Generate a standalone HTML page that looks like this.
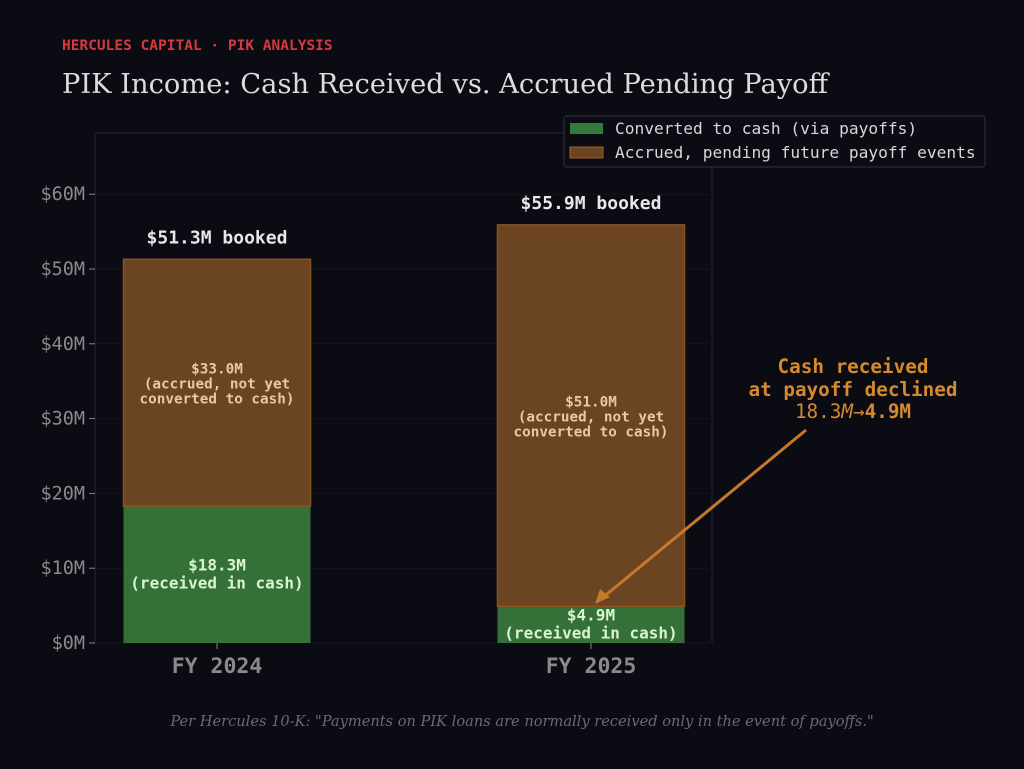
<!DOCTYPE html>
<html><head><meta charset="utf-8"><style>
body{margin:0;background:#0b0b14;}
svg{display:block;font-family:"DejaVu Sans Mono","Liberation Mono",monospace;}
</style></head><body>
<svg id="c" width="1024" height="769" viewBox="0 0 1024 769" xmlns="http://www.w3.org/2000/svg">
<rect width="1024" height="769" fill="#0b0b14"/>
<text x="62" y="50" fill="#d63a3a" font-size="14.5" font-weight="bold">HERCULES CAPITAL · PIK ANALYSIS</text>
<text x="62" y="93" fill="#dcdcdc" font-size="27.2" textLength="766" lengthAdjust="spacingAndGlyphs" font-family="'DejaVu Serif','Liberation Serif',serif">PIK Income: Cash Received vs. Accrued Pending Payoff</text>
<rect x="95" y="133" width="617" height="510" fill="none" stroke="#262633"/>
<g id="grid"></g><g id="bars"></g><g id="axes"></g>
<g>
<rect x="564" y="116" width="421" height="51" rx="3" fill="#0b0b14" stroke="#33333f"/>
<rect x="570" y="123" width="33" height="11" fill="#357a3c"/>
<text x="615" y="134" fill="#d8d8d8" font-size="16.2">Converted to cash (via payoffs)</text>
<rect x="570" y="147" width="33" height="11" fill="#6b4522" stroke="#9a5f24"/>
<text x="615" y="158" fill="#d8d8d8" font-size="16.2">Accrued, pending future payoff events</text>
</g>
<g fill="#d68a2e" font-size="19.3" font-weight="bold" text-anchor="middle">
<text x="853" y="373">Cash received</text>
<text x="853" y="396">at payoff declined</text>
<text x="853" y="418"><tspan font-weight="normal">18.3</tspan><tspan font-weight="normal" font-style="italic">M</tspan><tspan font-weight="normal">→</tspan>4.9M</text>
<line x1="806" y1="430" x2="601" y2="599" stroke="#c8782a" stroke-width="3"/>
<polygon points="595,604 600,589 610,597" fill="#c8782a"/>
</g>
<text x="522" y="726" fill="#6a6a72" font-size="14.6" font-style="italic" text-anchor="middle" font-family="'DejaVu Serif','Liberation Serif',serif">Per Hercules 10-K: "Payments on PIK loans are normally received only in the event of payoffs."</text>
</svg>
<script>
const categories=["FY 2024","FY 2025"];
const cashVals=[18.3,4.9];
const accruedVals=[33.0,51.0];
const yTicks=[0,10,20,30,40,50,60];
const NS="http://www.w3.org/2000/svg";
const y=v=>643-v*7.48;
const xc=i=>217+i*374;
const bw=187;
function mk(tag,attrs,parent,txt){const e=document.createElementNS(NS,tag);for(const k in attrs)e.setAttribute(k,attrs[k]);if(txt!==undefined)e.textContent=txt;document.getElementById(parent).appendChild(e);return e;}
yTicks.forEach(t=>{
 const g=mk('line',{x1:95,x2:712,y1:y(t),y2:y(t),stroke:'#14141e','stroke-width':1},'grid');
 
 
 const tk=mk('line',{x1:89,x2:95,y1:y(t),y2:y(t),stroke:'#888'},'axes');
 
 
 const l=mk('text',{x:85,y:y(t)+6,fill:'#8a8a8a','font-size':18.5,'text-anchor':'end'},'axes','$'+t+'M');
 
 
});
categories.forEach((c,i)=>{
 const x0=xc(i)-bw/2,cash=cashVals[i],acc=accruedVals[i],tot=cash+acc;
 const b1=mk('rect',{x:x0,y:y(cash),width:bw,height:y(0)-y(cash),fill:'#357039'},'bars');
 
 
 const b2=mk('rect',{x:x0,y:y(tot),width:bw,height:y(cash)-y(tot),fill:'#6b4522',stroke:'#8a5520','stroke-width':1.5},'bars');
 
 
 const tl=mk('text',{x:xc(i),y:y(tot)-16,fill:'#e8e8e8','font-size':18,'font-weight':'bold','text-anchor':'middle'},'bars','$'+tot.toFixed(1)+'M booked');
 
 
 const my=(y(cash)+y(tot))/2;
 ['$'+acc.toFixed(1)+'M','(accrued, not yet','converted to cash)'].forEach((s,k)=>{
  const t=mk('text',{x:xc(i),y:my-9+k*15,fill:'#e8c9a0','font-size':14.3,'font-weight':'bold','text-anchor':'middle'},'bars',s);
  
  
 });
 const cy=(y(0)+y(cash))/2;
 ['$'+cash.toFixed(1)+'M','(received in cash)'].forEach((s,k)=>{
  const t=mk('text',{x:xc(i),y:(cash>8?cy-4:y(cash)+14)+k*18,fill:'#d8f5d0','font-size':16,'font-weight':'bold','text-anchor':'middle'},'bars',s);
  
  
 });
 const xt=mk('line',{x1:xc(i),x2:xc(i),y1:643,y2:649,stroke:'#888'},'axes');
 
 
 const xl=mk('text',{x:xc(i),y:673,fill:'#8a8a8a','font-size':21.5,'font-weight':'bold','text-anchor':'middle'},'axes',c);
 
 
});
</script>
</body></html>
